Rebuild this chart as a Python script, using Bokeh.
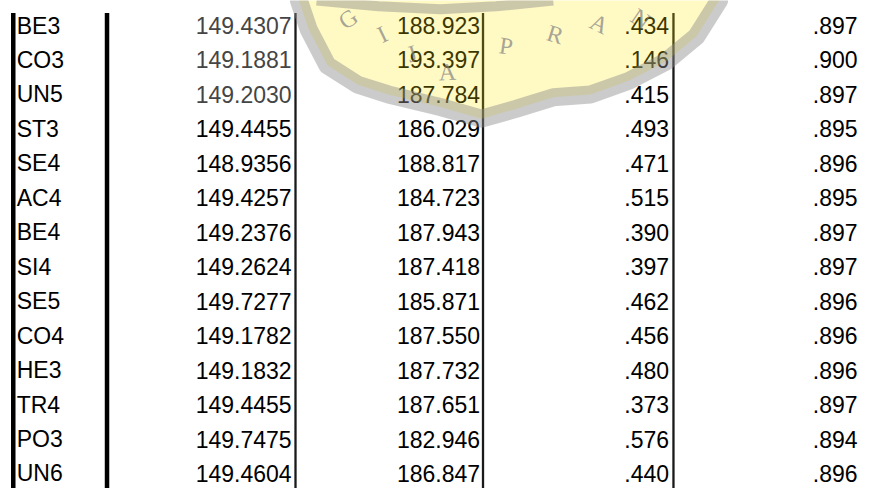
from bokeh.plotting import figure
from bokeh.models import Range1d
from bokeh.embed import file_html
from bokeh.resources import INLINE
from bokeh.core.properties import value

# ---- table data -------------------------------------------------------
labels = ["BE3", "CO3", "UN5", "ST3", "SE4", "AC4", "BE4", "SI4", "SE5",
          "CO4", "HE3", "TR4", "PO3", "UN6"]
col1 = [149.4307, 149.1881, 149.2030, 149.4455, 148.9356, 149.4257, 149.2376,
        149.2624, 149.7277, 149.1782, 149.1832, 149.4455, 149.7475, 149.4604]
col2 = [188.923, 193.397, 187.784, 186.029, 188.817, 184.723, 187.943,
        187.418, 185.871, 187.550, 187.732, 187.651, 182.946, 186.847]
col3 = [0.434, 0.146, 0.415, 0.493, 0.471, 0.515, 0.390, 0.397, 0.462,
        0.456, 0.480, 0.373, 0.576, 0.440]
col4 = [0.897, 0.900, 0.897, 0.895, 0.896, 0.895, 0.897, 0.897, 0.896,
        0.896, 0.896, 0.897, 0.894, 0.896]
watermark_letters = ["G", "I", "J", "A", "P", "R", "A", "N"]

# ---- formatting ---------------------------------------------------------
def spss3(v):
    s = f"{v:.3f}"
    return s[1:] if s.startswith("0") else s

t1 = [f"{v:.4f}" for v in col1]
t2 = [f"{v:.3f}" for v in col2]
t3 = [spss3(v) for v in col3]
t4 = [spss3(v) for v in col4]
rows = list(range(len(labels)))

# ---- layout ------------------------------------------------------------
W, H = 859, 488
ROW0_PX, PITCH_PX = 25.0, 34.46          # in figure pixels
y_top = -ROW0_PX / PITCH_PX
y_bot = y_top + H / PITCH_PX

p = figure(width=W, height=H, x_range=Range1d(0, 875),
           y_range=Range1d(y_bot, y_top), output_backend="svg",
           toolbar_location=None, min_border=0)
# decoration range in reference-pixel units
p.extra_y_ranges = {"px": Range1d(504, 0)}
p.axis.visible = False
p.grid.visible = False
p.outline_line_color = None
p.background_fill_color = "white"
p.border_fill_color = "white"

FONT = value("Liberation Sans")
FS = "23px"

# vertical rules
p.segment(x0=[13, 108.5], y0=[13, 13], x1=[13, 108.5], y1=[520, 520],
          line_width=4.5, line_color="black", y_range_name="px")
p.segment(x0=[300.5, 491.5, 685.5], y0=[13] * 3, x1=[300.5, 491.5, 685.5],
          y1=[520] * 3, line_width=2.3, line_color="#1a1a1a",
          y_range_name="px")

# texts
p.text(x=16.5, y=rows, text=labels, text_align="left", text_baseline="middle",
       text_font=FONT, text_font_size=FS, text_color="black")
c1_colors = ["#454545" if i < 3 else "black" for i in rows]
p.text(x=296.5, y=rows, text=t1, text_align="right", text_baseline="middle",
       text_font=FONT, text_font_size=FS, text_color=c1_colors)
p.text(x=488.5, y=rows, text=t2, text_align="right", text_baseline="middle",
       text_font=FONT, text_font_size=FS, text_color="black")
p.text(x=681, y=rows, text=t3, text_align="right", text_baseline="middle",
       text_font=FONT, text_font_size=FS, text_color="black")
p.text(x=873, y=rows, text=t4, text_align="right", text_baseline="middle",
       text_font=FONT, text_font_size=FS, text_color="black")

# ---- watermark (decoration, drawn on top with transparency) -----------
band_x = [304, 314, 333, 364, 395, 448, 490, 525, 563, 601, 640, 678, 709, 732]
band_y = [0, 30, 67, 87, 97, 110, 122, 112, 100, 97, 83, 63, 37, 0]
p.patch(x=band_x + [732, 304], y=band_y + [-5, -5], fill_color="#FFE500",
        fill_alpha=0.23, line_color=None, y_range_name="px")
p.line(x=band_x, y=band_y, line_width=18, line_color="#8c8c8c",
       line_alpha=0.45, line_join="round", line_cap="round",
       y_range_name="px")
p.line(x=[322, 385, 448, 505, 563], y=[0, 6, 9, 6, 0], line_width=10,
       line_color="#8c8c8c", line_alpha=0.45, line_join="round",
       y_range_name="px")
p.text(x=[354, 389, 419, 455, 515, 565, 610, 652],
       y=[19, 35, 55, 74, 47, 35, 24, 19], text=watermark_letters,
       angle=[0.6, 0.45, 0.3, 0.05, -0.15, -0.3, -0.45, -0.6],
       text_align="center", text_baseline="middle",
       text_font=value("Liberation Serif"), text_font_size="24px",
       text_color="#808080", text_alpha=0.7, y_range_name="px")

open("out.html", "w").write(file_html(p, INLINE))
